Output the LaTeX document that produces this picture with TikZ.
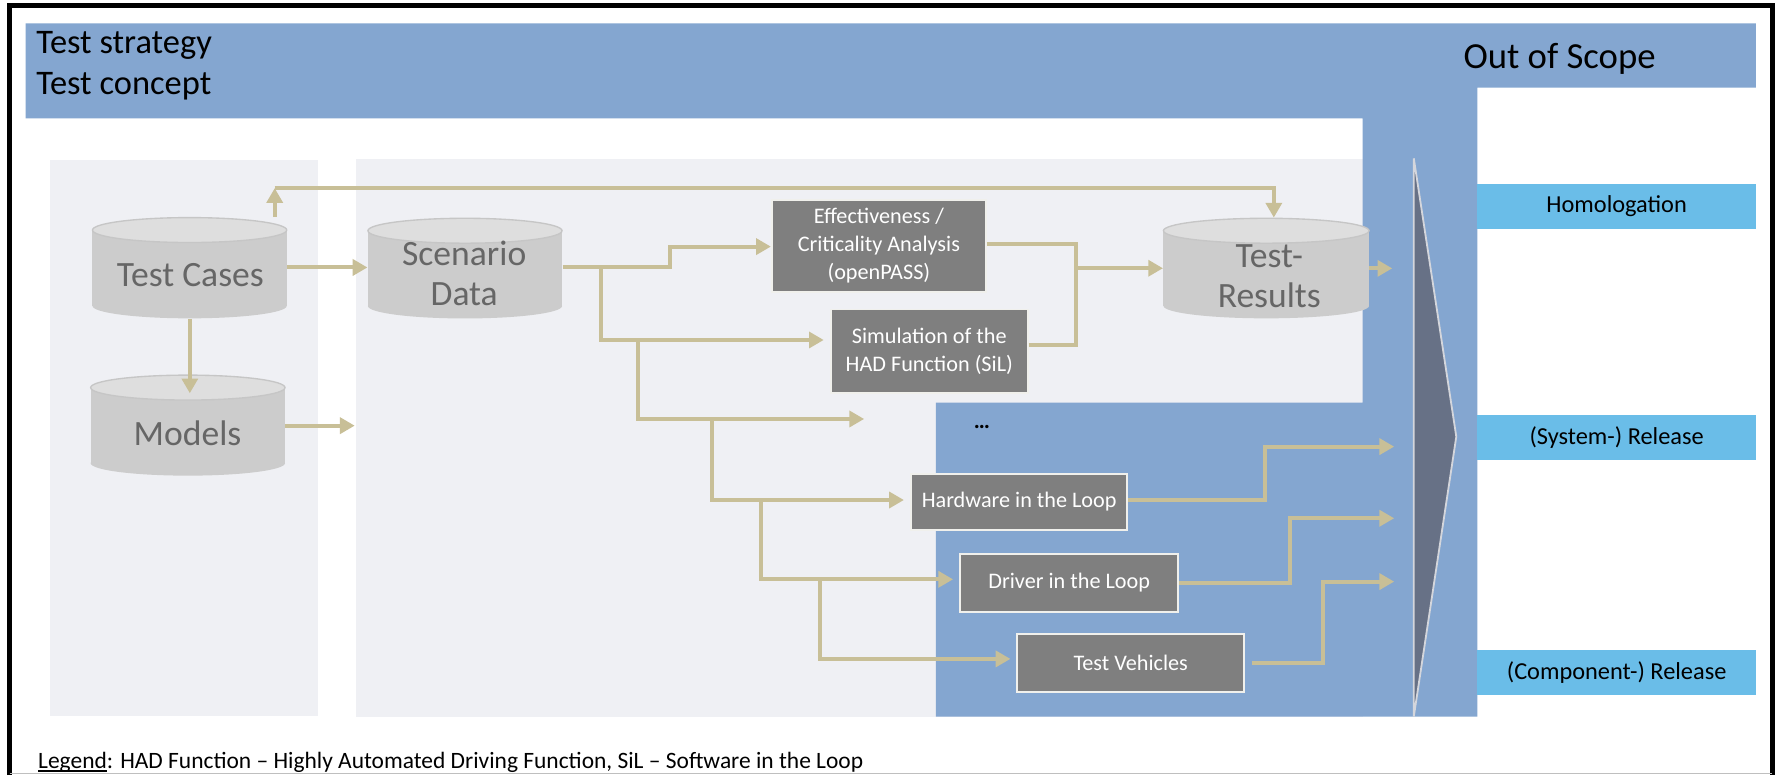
\documentclass[tikz,border=0pt]{standalone}
\usepackage{fontspec}
\setmainfont{Carlito}
\usetikzlibrary{arrows.meta}
\definecolor{bandblue}{RGB}{132,166,208}
\definecolor{lblblue}{RGB}{106,189,232}
\definecolor{chev}{RGB}{103,113,134}
\definecolor{chevedge}{RGB}{212,214,220}
\definecolor{panel}{RGB}{239,240,244}
\definecolor{cylbodyc}{RGB}{204,204,204}
\definecolor{cyltopc}{RGB}{222,222,222}
\definecolor{cyledge}{RGB}{198,198,198}
\definecolor{cyltxt}{RGB}{102,102,102}
\definecolor{procfill}{RGB}{127,127,127}
\definecolor{procedge}{RGB}{240,240,236}
\definecolor{flowc}{RGB}{200,191,151}

% database drum: name, centre x, top y, bottom y, width, cap radius
\newcommand\drum[6]{%
  \fill[cylbodyc] ({#2-#5/2},{-#3-#6}) rectangle ({#2+#5/2},{-#4+#6});
  \fill[cylbodyc] (#2,{-#4+#6}) ellipse [x radius=#5/2, y radius=#6];
  \filldraw[fill=cyltopc, draw=cyledge, line width=0.6pt] (#2,{-#3-#6}) ellipse [x radius=#5/2, y radius=#6];
  \path (#2,{-(#3+#4)/2}) node[minimum width={#5*0.5pt}, minimum height={(#4-#3)*0.5pt}, inner sep=0pt] (#1) {};
}
% underline sitting close to the baseline
\newcommand\lowline[1]{\setbox0\hbox{#1}\rlap{\rule[-1.4pt]{\wd0}{0.55pt}}\box0}

\begin{document}
\begin{tikzpicture}[x=0.5pt,y=0.5pt,
  flow/.style={draw=flowc, line width=1.75pt, -{Triangle[length=6.5pt,width=7pt]}},
  flowline/.style={draw=flowc, line width=1.75pt},
  proc/.style={fill=procfill, draw=procedge, line width=0.8pt, text=white,
    font=\fontsize{9.8}{12.4}\selectfont, align=center, inner sep=0pt},
  lbl/.style={fill=lblblue, minimum width=122.9pt, minimum height=19.8pt,
    inner sep=0pt, font=\fontsize{10.75}{13}\selectfont},
  cyltext/.style={text=cyltxt, font=\fontsize{15.7}{17.5}\selectfont, align=center, inner sep=0pt},
  hdr/.style={font=\fontsize{15.2}{18}\selectfont, inner sep=0pt, anchor=base west},
]
\useasboundingbox (0,0) rectangle (1568,-684);
\fill[white] (0,0) rectangle (1568,-684);

% grey working panels
\fill[panel] (44.3,-141) rectangle (280.7,-631.8);
\fill[panel] (313.7,-140.3) rectangle (1202.4,-632.3);

% blue frame of the test strategy
\fill[bandblue] (22.6,-20.6) -- (1549.4,-20.6) -- (1549.4,-77.4) -- (1303.6,-77.4)
  -- (1303.6,-632.3) -- (825.8,-632.3) -- (825.8,-355.3) -- (1202.4,-355.3)
  -- (1202.4,-104.4) -- (22.6,-104.4) -- cycle;

% release chevron
\filldraw[fill=chev, draw=chevedge, line width=0.8pt]
  (1247.5,-139.7) -- (1285,-385.3) -- (1247.5,-632.3) -- cycle;

% outer frame
\draw[black, line width=2.5pt] (8.5,-684) -- (8.5,-5) -- (1564,-5) -- (1564,-684);
\draw[black!25, line width=0.6pt] (8.5,-682.6) -- (1564,-682.6);

% headings
\node[hdr] (strat) at (31.6,-47) {Test strategy};
\node[hdr] (conc) at (31.6,-83.8) {Test concept};
\node[font=\fontsize{16.2}{19}\selectfont, inner sep=0pt, anchor=base west] (oos) at (1291,-60.3) {Out of Scope};

% release levels
\node[lbl] (homol) at (1426.5,-182) {Homologation};
\node[lbl] (sysrel) at (1426.5,-386) {(System-) Release};
\node[lbl] (comprel) at (1426.5,-593.3) {(Component-) Release};

% data stores
\drum{tc}{167.3}{192}{280.9}{171.4}{11}
\drum{models}{165.75}{331}{419.7}{171.5}{11}
\drum{sd}{410.3}{192.6}{281}{171.3}{11}
\drum{tr}{1117.3}{192.6}{280.9}{181.4}{11}
\node[cyltext] (tcl) at (168,-242.5) {Test Cases};
\node[cyltext] (modl) at (165.5,-382) {Models};
\node[cyltext] (sdl) at (409.6,-241) {Scenario\\Data};
\node[cyltext] (trl) at (1120,-243.5) {Test-\\Results};

% test methods
\node[proc, minimum width=94.5pt, minimum height=40.5pt] (eff) at (775.5,-217) {Effectiveness /\\Criticality Analysis\\(openPASS)};
\node[proc, minimum width=86.75pt, minimum height=36.75pt] (sim) at (820,-309.8) {Simulation of the\\HAD Function (SiL)};
\node[proc, minimum width=95.3pt, minimum height=24.7pt] (hil) at (899.3,-442.9) {Hardware in the Loop};
\node[proc, minimum width=96.1pt, minimum height=25.5pt] (dil) at (943.5,-514.3) {Driver in the Loop};
\node[proc, minimum width=100.3pt, minimum height=25.3pt] (tv) at (997.7,-585) {Test Vehicles};
\node[font=\fontsize{10}{12}\selectfont\bfseries, inner sep=0pt] (more) at (866.4,-377) {\ldots};

% junctions and open ends
\coordinate (up) at (242.4,-166);
\coordinate (trin) at (1124,-192);
\coordinate (modin) at (167.5,-347);
\coordinate (panelin) at (313,-375.6);
\coordinate (b1) at (530.4,-235.3);
\coordinate (b2) at (562.7,-300);
\coordinate (b3) at (628.6,-369.7);
\coordinate (b4) at (671.6,-441.2);
\coordinate (b5) at (723.2,-511.2);
\coordinate (moreend) at (762.5,-369.7);
\coordinate (merge) at (949.3,-236.7);
\coordinate (chevres) at (1228.5,-236.8);
\coordinate (chevhil) at (1230.2,-394.1);
\coordinate (chevdil) at (1230.2,-457.3);
\coordinate (chevtv) at (1230.2,-513.2);

% flows
\draw[flow] (tc.north -| up) -- (up);
\draw[flow] (up) -| (trin);
\draw[flow] (tc.east |- 0,-236) -- (sd.west |- 0,-236);
\draw[flow] (tc.south -| modin) -- (modin);
\draw[flow] (models.east |- panelin) -- (panelin);
\draw[flow] (sd.east |- b1) -| (591,-217.6) -- (eff.west |- 0,-217.6);
\draw[flow, shorten >=2.8pt] (b1) |- (sim.west |- b2);
\draw[flow] (b2) |- (moreend);
\draw[flow, shorten >=2.8pt] (b3) |- (hil.west |- b4);
\draw[flow, shorten >=2.8pt] (b4) |- (dil.west |- b5);
\draw[flow, shorten >=2.5pt] (b5) |- (tv.west |- 0,-581.4);
\draw[flow] (eff.east |- 0,-215.6) -| (merge) -- (tr.west |- merge);
\draw[flowline] (sim.east |- 0,-304.4) -| (merge);
\draw[flow] (tr.east |- chevres) -- (chevres);
\draw[flow] (hil.east |- 0,-441.2) -| (1116,-394.1) -- (chevhil);
\draw[flow] (dil.east |- 0,-514.7) -| (1138.1,-457.3) -- (chevdil);
\draw[flow, shorten <=3pt] (tv.east |- 0,-584.7) -| (1167.5,-513.2) -- (chevtv);

% legend
\node[font=\fontsize{10.35}{12}\selectfont, inner sep=0pt, anchor=base west] (legend) at (33.3,-678)
  {\lowline{Legend}: HAD Function – Highly Automated Driving Function, SiL – Software in the Loop};
\end{tikzpicture}
\end{document}
